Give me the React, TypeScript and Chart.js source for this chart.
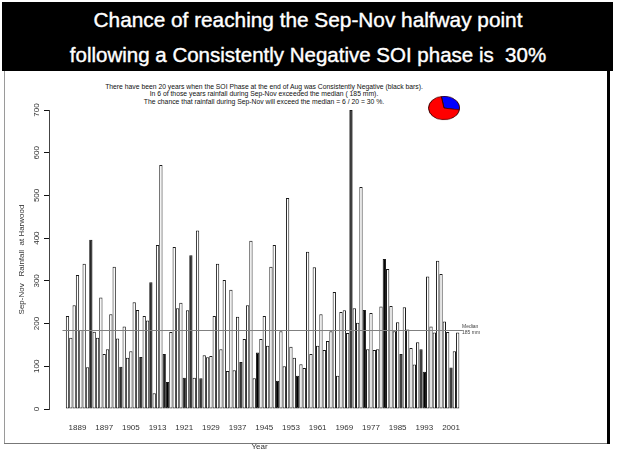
import React, { useEffect, useRef } from 'react';
import { Chart, registerables } from 'chart.js';

Chart.register(...registerables);

const FIRST_YEAR = 1886;

const rainfall: number[] = [
  218, 167, 243, 314, 185, 340, 98, 396, 181, 167,
  261, 129, 140, 222, 333, 165, 99, 193, 120, 135,
  250, 232, 122, 218, 207, 297, 37, 384, 571, 129,
  63, 180, 379, 236, 249, 73, 231, 360, 73, 418,
  72, 126, 121, 124, 218, 340, 140, 302, 89, 279,
  91, 216, 110, 164, 243, 394, 72, 132, 164, 218,
  148, 333, 384, 66, 182, 100, 494, 146, 120, 78,
  105, 96, 368, 129, 332, 148, 222, 138, 159, 182,
  274, 78, 227, 231, 178, 700, 236, 202, 520, 232,
  140, 225, 138, 140, 240, 351, 328, 241, 182, 203,
  129, 238, 186, 143, 104, 156, 140, 87, 310, 193,
  179, 347, 316, 205, 180, 97, 135, 179,
];

const negativeSoiYears: number[] = [
  1893, 1902, 1908, 1911, 1915, 1916, 1921, 1923, 1926, 1938,
  1943, 1949, 1955, 1971, 1975, 1981, 1986, 1992, 1993, 2001,
];

const yearTicks: number[] = [1889, 1897, 1905, 1913, 1921, 1929, 1937, 1945, 1953, 1961, 1969, 1977, 1985, 1993, 2001];
const rainTicks: number[] = [0, 100, 200, 300, 400, 500, 600, 700];
const MEDIAN = 185;

const pieLabels: string[] = ['Exceeded median', 'Did not exceed median'];
const pieValues: number[] = [6, 14];
const pieColors: string[] = ['#0000ff', '#ff0000'];

const years = rainfall.map((_, i) => FIRST_YEAR + i);

const FONT = "'Liberation Sans', Arial, Helvetica, sans-serif";

export default function App() {
  const barRef = useRef<HTMLCanvasElement>(null);
  const pieRef = useRef<HTMLCanvasElement>(null);

  useEffect(() => {
    Chart.defaults.font.family = FONT;
    const canvasW = 480;
    const chartLeft = 49;
    const chartRight = 470;
    const firstBarPx = 67.5;
    const pxPerYear = 3.335;
    const xMin = FIRST_YEAR - (firstBarPx - chartLeft) / pxPerYear;
    const xMax = FIRST_YEAR + (chartRight - firstBarPx) / pxPerYear;

    const medianPlugin = {
      id: 'medianLine',
      afterDatasetsDraw(chart: any) {
        const { ctx, scales } = chart;
        const x = scales.x;
        const y = scales.y;
        const py = Math.round(y.getPixelForValue(MEDIAN)) + 0.5;
        const x0 = x.getPixelForValue(years[0] - 1.5);
        const x1 = x.getPixelForValue(years[years.length - 1] + 1.5);
        ctx.save();
        ctx.strokeStyle = '#808080';
        ctx.lineWidth = 1;
        ctx.beginPath();
        ctx.moveTo(x0, py);
        ctx.lineTo(x1, py);
        ctx.stroke();
        ctx.restore();
      },
    };

    const bar = new Chart(barRef.current as HTMLCanvasElement, {
      type: 'bar',
      data: {
        datasets: [
          {
            data: years.map((yr, i) => ({ x: yr, y: rainfall[i] })),
            backgroundColor: years.map((yr) => (negativeSoiYears.includes(yr) ? '#000000' : '#ffffff')),
            borderColor: '#1a1a1a',
            borderWidth: 1,
            borderSkipped: false,
            barPercentage: 0.99,
            categoryPercentage: 1,
          } as any,
        ],
      },
      options: {
        responsive: false,
        animation: false,
        layout: { padding: { left: 0, right: canvasW - chartRight, top: 20, bottom: 0 } },
        plugins: { legend: { display: false }, tooltip: { enabled: false } },
        scales: {
          x: {
            type: 'linear',
            min: xMin,
            max: xMax,
            offset: false,
            afterBuildTicks: (s: any) => {
              s.ticks = yearTicks.map((v) => ({ value: v }));
            },
            afterFit: (s: any) => {
              s.height = 43;
            },
            grid: { display: false, drawTicks: false },
            border: { display: false },
            ticks: {
              autoSkip: false,
              maxRotation: 0,
              minRotation: 0,
              padding: 14,
              color: '#333',
              font: { size: 8 },
              callback: (v: any) => String(v),
            },
            title: { display: true, text: 'Year', color: '#333', font: { size: 8 }, padding: { top: 0, bottom: 0 } },
          } as any,
          y: {
            min: 0,
            max: 700,
            afterBuildTicks: (s: any) => {
              s.ticks = rainTicks.map((v) => ({ value: v }));
            },
            afterFit: (s: any) => {
              s.width = chartLeft;
            },
            grid: { drawOnChartArea: false, drawTicks: true, tickLength: 5, color: '#111', lineWidth: 1 },
            border: { display: true, color: '#444', width: 1 },
            ticks: {
              minRotation: 90,
              maxRotation: 90,
              crossAlign: 'center',
              padding: 1,
              color: '#333',
              font: { size: 8 },
            },
            title: {
              display: true,
              text: 'Sep-Nov   Rainfall  at Harwood',
              color: '#333',
              font: { size: 8 },
              padding: { top: 17, bottom: 0 },
            },
          } as any,
        },
      },
      plugins: [medianPlugin],
    });

    const pie = new Chart(pieRef.current as HTMLCanvasElement, {
      type: 'pie',
      data: {
        labels: pieLabels,
        datasets: [{ data: pieValues, backgroundColor: pieColors, borderColor: '#3a0000', borderWidth: 1 }],
      },
      options: {
        responsive: false,
        animation: false,
        rotation: -10,
        plugins: { legend: { display: false }, tooltip: { enabled: false } },
        layout: { padding: 1 },
      },
    });

    return () => {
      bar.destroy();
      pie.destroy();
    };
  }, []);

  const abs = (s: React.CSSProperties): React.CSSProperties => ({ position: 'absolute', ...s });

  return (
    <div style={{ position: 'fixed', left: 0, top: 0, width: 619, height: 453, background: '#ffffff', overflow: 'hidden', fontFamily: FONT }}>
      <div style={abs({ left: 2, top: 2, width: 611, height: 69, background: '#000' })} />
      <div style={abs({ left: 0, top: 8, width: 616, textAlign: 'center', color: '#fff', fontSize: 20.8, lineHeight: '24px', WebkitTextStroke: '0.4px #fff' })}>
        Chance of reaching the Sep-Nov halfway point
      </div>
      <div style={abs({ left: 0, top: 43, width: 616, textAlign: 'center', color: '#fff', fontSize: 20.5, lineHeight: '24px', whiteSpace: 'pre', WebkitTextStroke: '0.4px #fff' })}>
        {'following a Consistently Negative SOI phase is  30%'}
      </div>
      <div style={abs({ left: 4, top: 71, width: 1, height: 372, background: '#9a9a9a' })} />
      <div style={abs({ left: 4, top: 443, width: 606, height: 1, background: '#777' })} />
      <div style={abs({ left: 607, top: 70, width: 3, height: 374, background: '#000' })} />
      <div style={abs({ left: 0, top: 83, width: 528, textAlign: 'center', color: '#111', fontSize: 6.8, lineHeight: '7.4px' })}>
        <div>There have been 20 years when the SOI Phase at the end of Aug was Consistently Negative (black bars).</div>
        <div>In 6 of those years rainfall during Sep-Nov exceeded the median ( 185 mm).</div>
        <div>The chance that rainfall during Sep-Nov will exceed the median =  6 / 20 = 30 %.</div>
      </div>
      <canvas ref={barRef} width={480} height={362} style={abs({ left: 0, top: 90, width: 480, height: 362 })} />
      <div style={abs({ left: 462, top: 323, color: '#444', fontSize: 5, lineHeight: '6px' })}>
        <div>Median</div>
        <div>185 mm</div>
      </div>
      <div style={abs({ left: 427, top: 91, width: 34, height: 34, transform: 'scaleY(0.76)' })}>
        <canvas ref={pieRef} width={34} height={34} style={{ width: 34, height: 34, display: 'block' }} />
      </div>
    </div>
  );
}
